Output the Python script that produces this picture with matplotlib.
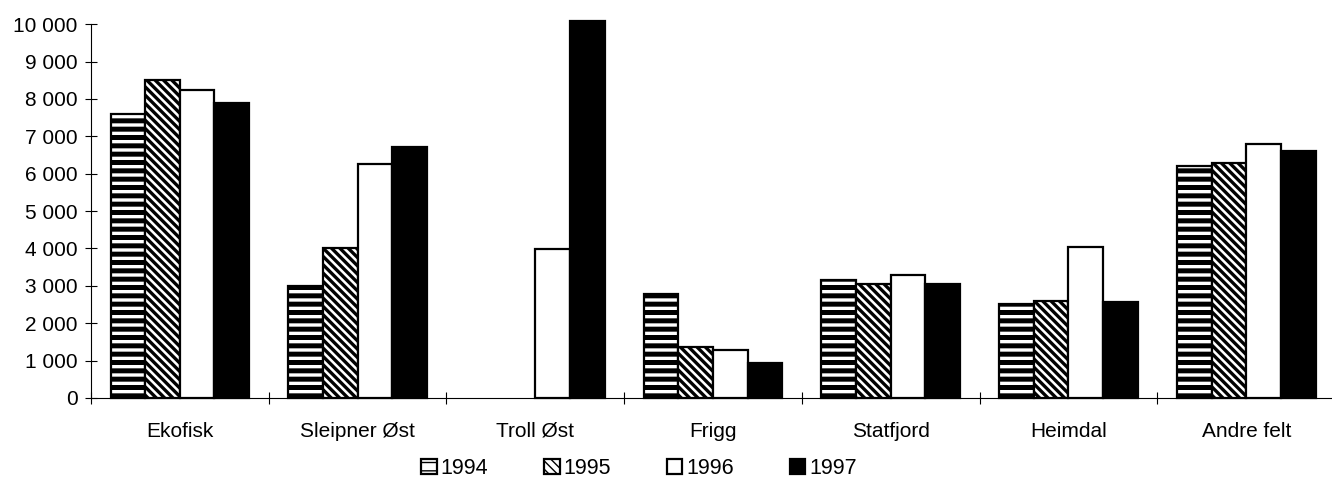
import numpy as np
import matplotlib
matplotlib.use("Agg")
import matplotlib.pyplot as plt
from matplotlib.ticker import FuncFormatter, FixedLocator

plt.rcParams['font.family'] = ['Liberation Sans', 'DejaVu Sans']

fields = ['Ekofisk', 'Sleipner Øst', 'Troll Øst', 'Frigg', 'Statfjord', 'Heimdal', 'Andre felt']
years = ['1994', '1995', '1996', '1997']
v1994 = [7600, 3000, 0, 2780, 3150, 2520, 6200]
v1995 = [8500, 4000, 0, 1360, 3050, 2590, 6280]
v1996 = [8250, 6250, 3980, 1280, 3290, 4030, 6800]
v1997 = [7900, 6720, 10080, 930, 3050, 2560, 6620]
series = [v1994, v1995, v1996, v1997]

# style per year: (facecolor, hatch, hatch linewidth)
styles = [('white', '--', 3.6), ('white', '\\\\\\\\', 2.4), ('white', '', 1.0), ('black', '', 1.0)]

fig = plt.figure(figsize=(13.32, 4.83), dpi=100)
ax = fig.add_axes([0.0683, 0.176, 0.934, 0.774])

x = np.arange(len(fields)) + 0.5
w = 0.195
handles = []
for i, (vals, (fc, hatch, hlw)) in enumerate(zip(series, styles)):
    vals = np.array(vals, dtype=float)
    vals[vals == 0] = np.nan  # no production -> no bar
    with plt.rc_context({'hatch.linewidth': hlw, 'hatch.color': 'black'}):
        bars = ax.bar(x + (i - 1.5) * w, vals, width=w, color=fc, edgecolor='black',
                      hatch=hatch, linewidth=1.6, clip_on=False, label=years[i], zorder=2)
    handles.append(bars)

ax.set_xlim(0, len(fields))
ax.set_ylim(0, 10000)
ax.set_yticks(np.arange(0, 10001, 1000))
ax.yaxis.set_major_formatter(FuncFormatter(lambda v, p: f"{v:,.0f}".replace(',', ' ')))
ax.tick_params(axis='y', direction='inout', length=9, width=0.8, labelsize=15, pad=5)

ax.xaxis.set_major_locator(FixedLocator(np.arange(0, len(fields) + 1)))
ax.xaxis.set_major_formatter(plt.NullFormatter())
ax.xaxis.set_minor_locator(FixedLocator(x))
ax.set_xticklabels(fields, minor=True)
ax.tick_params(axis='x', which='major', direction='inout', length=8, width=0.8)
ax.tick_params(axis='x', which='minor', length=0, labelsize=15, pad=17)

for s in ['top', 'right']:
    ax.spines[s].set_visible(False)
for s in ['left', 'bottom']:
    ax.spines[s].set_linewidth(0.8)

fig.legend(handles=handles, labels=years, loc='center', bbox_to_anchor=(0.48, 0.03),
           ncol=4, frameon=False, fontsize=15.5, handlelength=0.7, handleheight=0.7,
           handletextpad=0.2, columnspacing=2.6)

fig.savefig('out.png', dpi=100)
